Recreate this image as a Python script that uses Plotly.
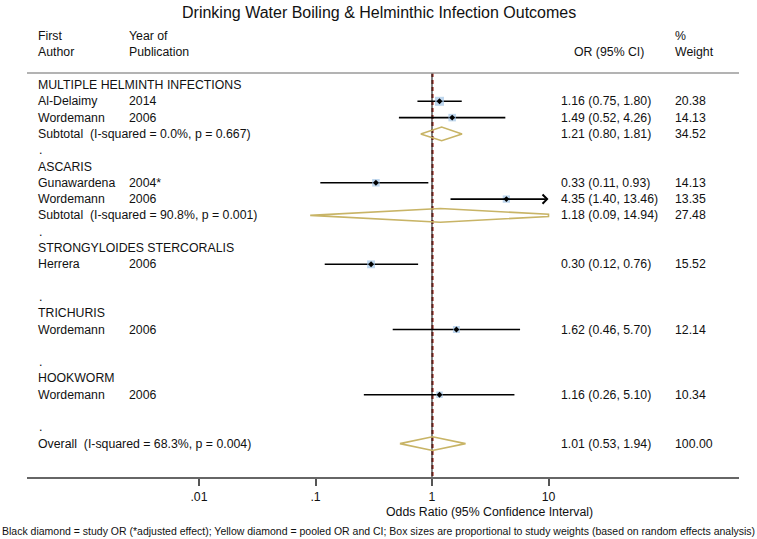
import numpy as np
import plotly.graph_objects as go

# ---------------- data ----------------
title = "Drinking Water Boiling & Helminthic Infection Outcomes"
groups = ["MULTIPLE HELMINTH INFECTIONS", "ASCARIS", "STRONGYLOIDES STERCORALIS", "TRICHURIS", "HOOKWORM"]

study_author = ["Al-Delaimy", "Wordemann", "Gunawardena", "Wordemann", "Herrera", "Wordemann", "Wordemann"]
study_year = ["2014", "2006", "2004*", "2006", "2006", "2006", "2006"]
study_group = [0, 0, 1, 1, 2, 3, 4]
study_or = [1.16, 1.49, 0.33, 4.35, 0.30, 1.62, 1.16]
study_lo = [0.75, 0.52, 0.11, 1.40, 0.12, 0.46, 0.26]
study_hi = [1.80, 4.26, 0.93, 13.46, 0.76, 5.70, 5.10]
study_weight = [20.38, 14.13, 14.13, 13.35, 15.52, 12.14, 10.34]

# pooled estimates: subtotal per group (only groups with >1 study), and overall
subtotal_group = [0, 1]
subtotal_i2 = ["0.0%", "90.8%"]
subtotal_p = ["0.667", "0.001"]
subtotal_or = [1.21, 1.18]
subtotal_lo = [0.80, 0.09]
subtotal_hi = [1.81, 14.94]
subtotal_weight = [34.52, 27.48]

overall_i2 = "68.3%"
overall_p = "0.004"
overall_or = 1.01
overall_lo = 0.53
overall_hi = 1.94
overall_weight = 100.00

tick_vals = [0.01, 0.1, 1, 10]
tick_text = [".01", ".1", "1", "10"]
ci_clip = 10  # CIs beyond this are truncated (arrow)

x_title = "Odds Ratio (95% Confidence Interval)"
footnote = ("Black diamond = study OR (*adjusted effect); Yellow diamond = pooled OR and CI; "
            "Box sizes are proportional to study weights (based on random effects analysis)")

# ---------------- layout geometry ----------------
W, H = 757, 539
L, R, T, B = 27, 18, 73, 62
PW, PH = W - L - R, H - T - B
FONT = "Liberation Sans, Arial, Helvetica, sans-serif"
FS = 12.3
TXT = "#111111"
BOX = "#A3C5E6"
DIA = "#C8B466"


def px(xp):
    return (xp - L) / PW


def py(yp):
    return (H - B - yp) / PH


# ---------------- row assignment ----------------
rows_text = []  # (row, col_x, text)
study_rows = []
pooled_rows = []  # (row, or, lo, hi, w, label)
row = 0
for g, gname in enumerate(groups):
    rows_text.append((row, 36, gname))
    row += 1
    for i in range(len(study_author)):
        if study_group[i] == g:
            study_rows.append(row)
            rows_text.append((row, 36, study_author[i]))
            rows_text.append((row, 127, study_year[i]))
            row += 1
    if g in subtotal_group:
        j = subtotal_group.index(g)
        lab = "Subtotal\u00a0 (I-squared = %s, p = %s)" % (subtotal_i2[j], subtotal_p[j])
        pooled_rows.append((row, subtotal_or[j], subtotal_lo[j], subtotal_hi[j], subtotal_weight[j], lab))
    row += 1
    rows_text.append((row, 37, "."))
    row += 1
pooled_rows.append((row, overall_or, overall_lo, overall_hi, overall_weight,
                    "Overall\u00a0 (I-squared = %s, p = %s)" % (overall_i2, overall_p)))

ROW0, DROW = 85.0, 16.3
y_top = (T - ROW0) / DROW
y_bot = (H - B - ROW0) / DROW

fig = go.Figure()

# reference lines (overall estimate dashed red under the black null line)
fig.add_trace(go.Scatter(x=[overall_or, overall_or], y=[y_top, y_bot], mode="lines",
                         line=dict(color="#A83228", width=2.2, dash="4px,3px"), hoverinfo="skip", showlegend=False))
fig.add_trace(go.Scatter(x=[1, 1], y=[y_top, y_bot], mode="lines",
                         line=dict(color="#1a1a1a", width=1.1), hoverinfo="skip", showlegend=False))

# confidence intervals
for i, r in enumerate(study_rows):
    if study_hi[i] > ci_clip:
        continue
    fig.add_trace(go.Scatter(x=[study_lo[i], study_hi[i]], y=[r, r], mode="lines",
                             line=dict(color="black", width=1.6), hoverinfo="skip", showlegend=False))

annotations = []
for i, r in enumerate(study_rows):
    if study_hi[i] > ci_clip:
        annotations.append(dict(x=np.log10(ci_clip), y=r, ax=np.log10(study_lo[i]), ay=r,
                                xref="x", yref="y", axref="x", ayref="y", text="",
                                showarrow=True, arrowhead=4, arrowsize=1.1, arrowwidth=1.6,
                                arrowcolor="black", standoff=0, startstandoff=0))

# weight boxes
fig.add_trace(go.Scatter(x=study_or, y=study_rows, mode="markers",
                         marker=dict(symbol="square", color=BOX,
                                     size=[2.0 * np.sqrt(w) for w in study_weight],
                                     line=dict(width=0)),
                         hoverinfo="skip", showlegend=False))
# point estimates
fig.add_trace(go.Scatter(x=study_or, y=study_rows, mode="markers",
                         marker=dict(symbol="diamond", color="black", size=4.5, line=dict(width=0)),
                         hoverinfo="skip", showlegend=False))

# pooled diamonds (clipped at ci_clip)
HH = 0.42
for (r, est, lo, hi, w, lab) in pooled_rows:
    le, ll, lh = np.log10(est), np.log10(lo), np.log10(hi)
    lc = np.log10(ci_clip)
    if lh > lc:
        hh = HH * (lh - lc) / (lh - le)
        xs = [lo, est, ci_clip, ci_clip, est, lo]
        ys = [r, r - HH, r - hh, r + hh, r + HH, r]
    else:
        xs = [lo, est, hi, est, lo]
        ys = [r, r - HH, r, r + HH, r]
    fig.add_trace(go.Scatter(x=xs, y=ys, mode="lines", line=dict(color=DIA, width=1.6),
                             hoverinfo="skip", showlegend=False))
    rows_text.append((r, 36, lab))

# OR and weight columns
for i, r in enumerate(study_rows):
    rows_text.append((r, 559, "%.2f (%.2f, %.2f)" % (study_or[i], study_lo[i], study_hi[i])))
    rows_text.append((r, 673, "%.2f" % study_weight[i]))
for (r, est, lo, hi, w, lab) in pooled_rows:
    rows_text.append((r, 559, "%.2f (%.2f, %.2f)" % (est, lo, hi)))
    rows_text.append((r, 673, "%.2f" % w))

for (r, xc, t) in rows_text:
    annotations.append(dict(x=px(xc), y=r, xref="paper", yref="y", text=t, showarrow=False,
                            xanchor="left", yanchor="middle", font=dict(size=FS, color=TXT, family=FONT)))


def head(xc, yc, t, anchor="left", size=FS):
    annotations.append(dict(x=px(xc), y=py(yc), xref="paper", yref="paper", text=t, showarrow=False,
                            xanchor=anchor, yanchor="middle", font=dict(size=size, color=TXT, family=FONT)))


head(36, 36, "First")
head(36, 52, "Author")
head(127, 36, "Year of")
head(127, 52, "Publication")
head(646, 52, "OR (95% CI)", anchor="right")
head(673, 36, "%")
head(673, 52, "Weight")
head(378.5, 12, title, anchor="center", size=16)
head(489, 512, x_title, anchor="center")
head(378.5, 531, footnote, anchor="center", size=10.5)

fig.update_layout(
    width=W, height=H,
    margin=dict(l=L, r=R, t=T, b=B, pad=0),
    paper_bgcolor="white", plot_bgcolor="white",
    showlegend=False,
    annotations=annotations,
    shapes=[dict(type="line", xref="paper", yref="paper", x0=0, x1=1, y0=1, y1=1,
                 line=dict(color="#9A9A9A", width=1.5))],
    xaxis=dict(type="log", range=[(L - 432) / 116.5, (W - R - 432) / 116.5],
               showline=True, linecolor="#666666", linewidth=2, mirror=False,
               ticks="outside", ticklen=7, tickwidth=1.5, tickcolor="#555555",
               tickvals=tick_vals, ticktext=tick_text, showgrid=False, zeroline=False,
               tickfont=dict(size=FS, color=TXT, family=FONT), fixedrange=True),
    yaxis=dict(range=[y_bot, y_top], visible=False, showgrid=False, zeroline=False, fixedrange=True),
)

fig.write_html("out.html", config={"displayModeBar": False},
               post_script="document.body.style.margin='0';document.body.style.overflow='hidden';")
